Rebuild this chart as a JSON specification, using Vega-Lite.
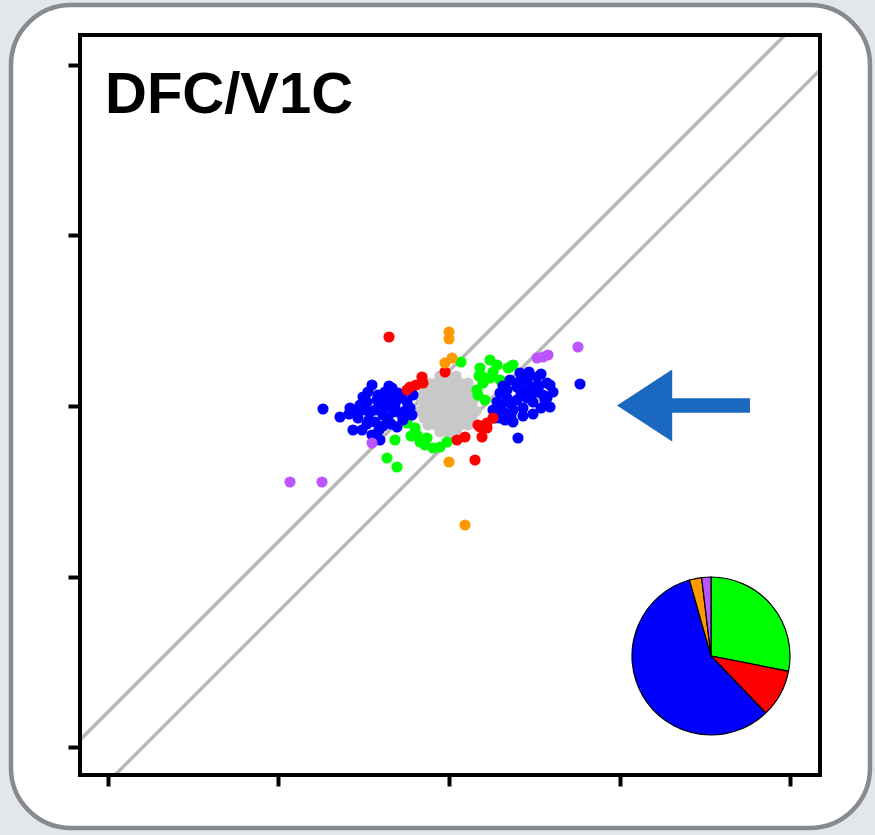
{
  "$schema": "https://vega.github.io/schema/vega-lite/v6.json",
  "width": 740,
  "height": 740,
  "autosize": {"type": "none"},
  "padding": {"left": 80, "top": 35, "right": 55, "bottom": 60},
  "background": "#e3e6ea",
  "config": {
    "view": {"stroke": null}
  },
  "datasets": {
    "one": [{}],
    "pts": [
      {"g": "N", "x": -9, "y": 30}, {"g": "N", "x": -1, "y": 30}, {"g": "N", "x": 7, "y": 30},
      {"g": "N", "x": -21, "y": 23}, {"g": "N", "x": -13, "y": 23}, {"g": "N", "x": -5, "y": 23}, {"g": "N", "x": 3, "y": 23}, {"g": "N", "x": 11, "y": 23}, {"g": "N", "x": 19, "y": 23},
      {"g": "N", "x": -25, "y": 16}, {"g": "N", "x": -17, "y": 16}, {"g": "N", "x": -9, "y": 16}, {"g": "N", "x": -1, "y": 16}, {"g": "N", "x": 7, "y": 16}, {"g": "N", "x": 15, "y": 16}, {"g": "N", "x": 23, "y": 16},
      {"g": "N", "x": -29, "y": 9}, {"g": "N", "x": -21, "y": 9}, {"g": "N", "x": -13, "y": 9}, {"g": "N", "x": -5, "y": 9}, {"g": "N", "x": 3, "y": 9}, {"g": "N", "x": 11, "y": 9}, {"g": "N", "x": 19, "y": 9}, {"g": "N", "x": 27, "y": 9},
      {"g": "N", "x": -25, "y": 2}, {"g": "N", "x": -17, "y": 2}, {"g": "N", "x": -9, "y": 2}, {"g": "N", "x": -1, "y": 2}, {"g": "N", "x": 7, "y": 2}, {"g": "N", "x": 15, "y": 2}, {"g": "N", "x": 23, "y": 2},
      {"g": "N", "x": -29, "y": -5}, {"g": "N", "x": -21, "y": -5}, {"g": "N", "x": -13, "y": -5}, {"g": "N", "x": -5, "y": -5}, {"g": "N", "x": 3, "y": -5}, {"g": "N", "x": 11, "y": -5}, {"g": "N", "x": 19, "y": -5}, {"g": "N", "x": 27, "y": -5},
      {"g": "N", "x": -25, "y": -12}, {"g": "N", "x": -17, "y": -12}, {"g": "N", "x": -9, "y": -12}, {"g": "N", "x": -1, "y": -12}, {"g": "N", "x": 7, "y": -12}, {"g": "N", "x": 15, "y": -12}, {"g": "N", "x": 23, "y": -12},
      {"g": "N", "x": -21, "y": -19}, {"g": "N", "x": -13, "y": -19}, {"g": "N", "x": -5, "y": -19}, {"g": "N", "x": 3, "y": -19}, {"g": "N", "x": 11, "y": -19}, {"g": "N", "x": 19, "y": -19},
      {"g": "N", "x": -9, "y": -26}, {"g": "N", "x": -1, "y": -26}, {"g": "N", "x": 7, "y": -26},
      {"g": "N", "x": -5, "y": 2}, {"g": "N", "x": 3, "y": 2}, {"g": "N", "x": -13, "y": 2}, {"g": "N", "x": 11, "y": 2}, {"g": "N", "x": -5, "y": 12}, {"g": "N", "x": 3, "y": 12}, {"g": "N", "x": -5, "y": -8}, {"g": "N", "x": 3, "y": -8},
      {"g": "N", "x": -17, "y": 12}, {"g": "N", "x": 15, "y": 12}, {"g": "N", "x": -17, "y": -8}, {"g": "N", "x": 15, "y": -8}, {"g": "N", "x": -9, "y": 20}, {"g": "N", "x": 7, "y": 20}, {"g": "N", "x": -9, "y": -16}, {"g": "N", "x": 7, "y": -16},

      {"g": "B", "x": 12, "y": 44}, {"g": "B", "x": 31, "y": 38}, {"g": "B", "x": 41, "y": 46}, {"g": "B", "x": 48, "y": 41}, {"g": "B", "x": 61, "y": 39}, {"g": "B", "x": 64, "y": 41},
      {"g": "B", "x": 34, "y": 29}, {"g": "B", "x": 41, "y": 28}, {"g": "B", "x": 51, "y": 26}, {"g": "B", "x": 59, "y": 38}, {"g": "B", "x": 34, "y": 23}, {"g": "B", "x": 28, "y": 16},
      {"g": "B", "x": 36, "y": 6}, {"g": "B", "x": 29, "y": 11}, {"g": "B", "x": 30, "y": 30}, {"g": "B", "x": 44, "y": 34},
      {"g": "B", "x": -39, "y": -6}, {"g": "B", "x": -42, "y": -17}, {"g": "B", "x": -34, "y": -22}, {"g": "B", "x": -32, "y": -29}, {"g": "B", "x": -29, "y": -36}, {"g": "B", "x": -24, "y": -39},
      {"g": "B", "x": -16, "y": -42}, {"g": "B", "x": -9, "y": -41}, {"g": "B", "x": -2, "y": -36}, {"g": "B", "x": -54, "y": -34}, {"g": "B", "x": -62, "y": -52}, {"g": "B", "x": -52, "y": -61},
      {"g": "B", "x": -38, "y": -30}, {"g": "B", "x": -22, "y": -32},

      {"g": "A", "x": -126, "y": -3}, {"g": "A", "x": -109, "y": -11}, {"g": "A", "x": -99, "y": -2}, {"g": "A", "x": -89, "y": 1}, {"g": "A", "x": -82, "y": 4}, {"g": "A", "x": -72, "y": 6},
      {"g": "A", "x": -62, "y": 4}, {"g": "A", "x": -52, "y": 6}, {"g": "A", "x": -42, "y": 4}, {"g": "A", "x": -39, "y": -2}, {"g": "A", "x": -56, "y": -6}, {"g": "A", "x": -66, "y": -9},
      {"g": "A", "x": -79, "y": -6}, {"g": "A", "x": -91, "y": -12}, {"g": "A", "x": -46, "y": -14}, {"g": "A", "x": -52, "y": -21}, {"g": "A", "x": -96, "y": -24}, {"g": "A", "x": -87, "y": -24},
      {"g": "A", "x": -77, "y": -29}, {"g": "A", "x": -69, "y": -34}, {"g": "A", "x": -77, "y": 21}, {"g": "A", "x": -81, "y": 14}, {"g": "A", "x": -64, "y": 14}, {"g": "A", "x": -51, "y": 13},
      {"g": "A", "x": -57, "y": 18}, {"g": "A", "x": -71, "y": 11}, {"g": "A", "x": -59, "y": 10}, {"g": "A", "x": -47, "y": 10}, {"g": "A", "x": -84, "y": -4}, {"g": "A", "x": -69, "y": 1},
      {"g": "A", "x": -54, "y": -1}, {"g": "A", "x": -61, "y": -14}, {"g": "A", "x": -74, "y": -16}, {"g": "A", "x": -36, "y": 11}, {"g": "A", "x": -37, "y": -9},
      {"g": "A", "x": -66, "y": -20}, {"g": "A", "x": -80, "y": -14}, {"g": "A", "x": -44, "y": -5}, {"g": "A", "x": -64, "y": 0},
      {"g": "A", "x": -93, "y": -6}, {"g": "A", "x": -86, "y": 9}, {"g": "A", "x": -66, "y": 8}, {"g": "A", "x": -48, "y": -8}, {"g": "A", "x": -58, "y": -18}, {"g": "A", "x": -70, "y": -24},
      {"g": "A", "x": -82, "y": -18}, {"g": "A", "x": -60, "y": 20}, {"g": "A", "x": -74, "y": -4}, {"g": "A", "x": -100, "y": -8},
      {"g": "A", "x": 131, "y": 22}, {"g": "A", "x": 71, "y": 33}, {"g": "A", "x": 78, "y": 26}, {"g": "A", "x": 88, "y": 29}, {"g": "A", "x": 98, "y": 23}, {"g": "A", "x": 101, "y": 21},
      {"g": "A", "x": 84, "y": 19}, {"g": "A", "x": 68, "y": 19}, {"g": "A", "x": 58, "y": 16}, {"g": "A", "x": 51, "y": 13}, {"g": "A", "x": 94, "y": 11}, {"g": "A", "x": 48, "y": 4},
      {"g": "A", "x": 58, "y": 8}, {"g": "A", "x": 68, "y": 6}, {"g": "A", "x": 78, "y": 8}, {"g": "A", "x": 84, "y": 4}, {"g": "A", "x": 44, "y": -4}, {"g": "A", "x": 54, "y": -6},
      {"g": "A", "x": 64, "y": -4}, {"g": "A", "x": 74, "y": -2}, {"g": "A", "x": 96, "y": 6}, {"g": "A", "x": 101, "y": -1}, {"g": "A", "x": 64, "y": -16}, {"g": "A", "x": 69, "y": -32},
      {"g": "A", "x": 98, "y": 8}, {"g": "A", "x": 61, "y": 26}, {"g": "A", "x": 76, "y": 16}, {"g": "A", "x": 88, "y": 14}, {"g": "A", "x": 51, "y": -12}, {"g": "A", "x": 46, "y": -12}, {"g": "A", "x": 56, "y": -14},
      {"g": "A", "x": 72, "y": 12}, {"g": "A", "x": 62, "y": 2}, {"g": "A", "x": 54, "y": 20}, {"g": "A", "x": 82, "y": 12},
      {"g": "A", "x": 90, "y": 20}, {"g": "A", "x": 92, "y": -2}, {"g": "A", "x": 84, "y": -8}, {"g": "A", "x": 74, "y": -10}, {"g": "A", "x": 62, "y": -10}, {"g": "A", "x": 80, "y": 34},
      {"g": "A", "x": 92, "y": 32}, {"g": "A", "x": 70, "y": 24}, {"g": "A", "x": 104, "y": 14}, {"g": "A", "x": 52, "y": 0},

      {"g": "C", "x": -60, "y": 69}, {"g": "C", "x": -4, "y": 34}, {"g": "C", "x": -27, "y": 29}, {"g": "C", "x": -26, "y": 23}, {"g": "C", "x": -39, "y": 19}, {"g": "C", "x": -33, "y": 21},
      {"g": "C", "x": -42, "y": 16}, {"g": "C", "x": 38, "y": -17}, {"g": "C", "x": 29, "y": -19}, {"g": "C", "x": 44, "y": -12}, {"g": "C", "x": 31, "y": -21}, {"g": "C", "x": 38, "y": -22},
      {"g": "C", "x": 16, "y": -31}, {"g": "C", "x": 8, "y": -34}, {"g": "C", "x": 33, "y": -31}, {"g": "C", "x": 26, "y": -54},

      {"g": "D", "x": 0, "y": 74}, {"g": "D", "x": 0, "y": 67}, {"g": "D", "x": 3, "y": 48}, {"g": "D", "x": -4, "y": 43}, {"g": "D", "x": 0, "y": -56}, {"g": "D", "x": 16, "y": -119},

      {"g": "E", "x": 88, "y": 48}, {"g": "E", "x": 94, "y": 49}, {"g": "E", "x": 99, "y": 51}, {"g": "E", "x": 129, "y": 59}, {"g": "E", "x": -77, "y": -37}, {"g": "E", "x": -159, "y": -76}, {"g": "E", "x": -127, "y": -76}
    ],
    "pie": [
      {"g": "B", "ord": 1, "pct": 28.1},
      {"g": "C", "ord": 2, "pct": 9.7},
      {"g": "A", "ord": 3, "pct": 57.8},
      {"g": "D", "ord": 4, "pct": 2.5},
      {"g": "E", "ord": 5, "pct": 1.9}
    ]
  },
  "layer": [
    {
      "data": {"name": "one"},
      "mark": {"type": "rect", "fill": "white", "stroke": "#878a8e", "strokeWidth": 4.5, "cornerRadius": 60},
      "encoding": {
        "x": {"datum": -438, "type": "quantitative", "title": null, "scale": {"domain": [-369, 371], "nice": false, "zero": false},
              "axis": {"values": [-341, -170.5, 0, 170.5, 341], "labels": false, "domain": false, "grid": false, "ticks": true, "tickSize": 11, "tickWidth": 4, "tickColor": "black", "zindex": 2}},
        "x2": {"datum": 421},
        "y": {"datum": 401, "type": "quantitative", "title": null, "scale": {"domain": [-369, 371], "nice": false, "zero": false},
              "axis": {"values": [-341, -170.5, 0, 170.5, 341], "labels": false, "domain": false, "grid": false, "ticks": true, "tickSize": 12, "tickWidth": 4, "tickColor": "black", "zindex": 2}},
        "y2": {"datum": -422}
      }
    },
    {
      "data": {"name": "one"},
      "mark": {"type": "rule", "color": "#b8b8b8", "strokeWidth": 3.5},
      "encoding": {
        "x": {"datum": -369, "type": "quantitative", "title": null},
        "y": {"datum": -334, "type": "quantitative", "title": null},
        "x2": {"datum": 336},
        "y2": {"datum": 371}
      }
    },
    {
      "data": {"name": "one"},
      "mark": {"type": "rule", "color": "#b8b8b8", "strokeWidth": 3.5},
      "encoding": {
        "x": {"datum": -334, "type": "quantitative", "title": null},
        "y": {"datum": -369, "type": "quantitative", "title": null},
        "x2": {"datum": 371},
        "y2": {"datum": 336}
      }
    },
    {
      "data": {"name": "pts"},
      "mark": {"type": "circle", "size": 125, "opacity": 1},
      "encoding": {
        "x": {"field": "x", "type": "quantitative", "title": null},
        "y": {"field": "y", "type": "quantitative", "title": null},
        "color": {"field": "g", "type": "nominal", "legend": null,
                  "scale": {"domain": ["A", "B", "C", "D", "E", "N"], "range": ["#0000ff", "#00ff00", "#ff0000", "#ff9900", "#bb55ff", "#c8c8c8"]}}
      }
    },
    {
      "data": {"name": "pie"},
      "transform": [
        {"stack": "pct", "groupby": [], "sort": [{"field": "ord", "order": "ascending"}], "as": ["t0", "t1"]}
      ],
      "mark": {"type": "arc", "outerRadius": 79, "stroke": "black", "strokeWidth": 1.2},
      "encoding": {
        "theta": {"field": "t0", "type": "quantitative", "scale": {"domain": [0, 100]}},
        "theta2": {"field": "t1"},
        "x": {"datum": 262, "type": "quantitative", "title": null},
        "y": {"datum": -250, "type": "quantitative", "title": null},
        "color": {"field": "g", "type": "nominal", "legend": null}
      }
    },
    {
      "data": {"name": "one"},
      "mark": {"type": "point", "filled": true, "shape": "M-1,0L-0.17,-0.54L-0.17,-0.11L1,-0.11L1,0.11L-0.17,0.11L-0.17,0.54Z", "size": 17689, "color": "#1a68c0", "opacity": 1, "strokeWidth": 0},
      "encoding": {
        "x": {"datum": 234.5, "type": "quantitative", "title": null},
        "y": {"datum": 0.5, "type": "quantitative", "title": null}
      }
    },
    {
      "data": {"name": "one"},
      "mark": {"type": "text", "text": "DFC/V1C", "font": "Liberation Sans", "fontWeight": "bold", "fontSize": 58, "align": "left", "baseline": "alphabetic", "color": "black"},
      "encoding": {
        "x": {"datum": -344, "type": "quantitative", "title": null},
        "y": {"datum": 293, "type": "quantitative", "title": null}
      }
    },
    {
      "data": {"name": "one"},
      "mark": {"type": "rect", "filled": false, "stroke": "black", "strokeWidth": 4},
      "encoding": {
        "x": {"datum": -369, "type": "quantitative", "title": null},
        "x2": {"datum": 371},
        "y": {"datum": -369, "type": "quantitative", "title": null},
        "y2": {"datum": 371}
      }
    }
  ]
}
